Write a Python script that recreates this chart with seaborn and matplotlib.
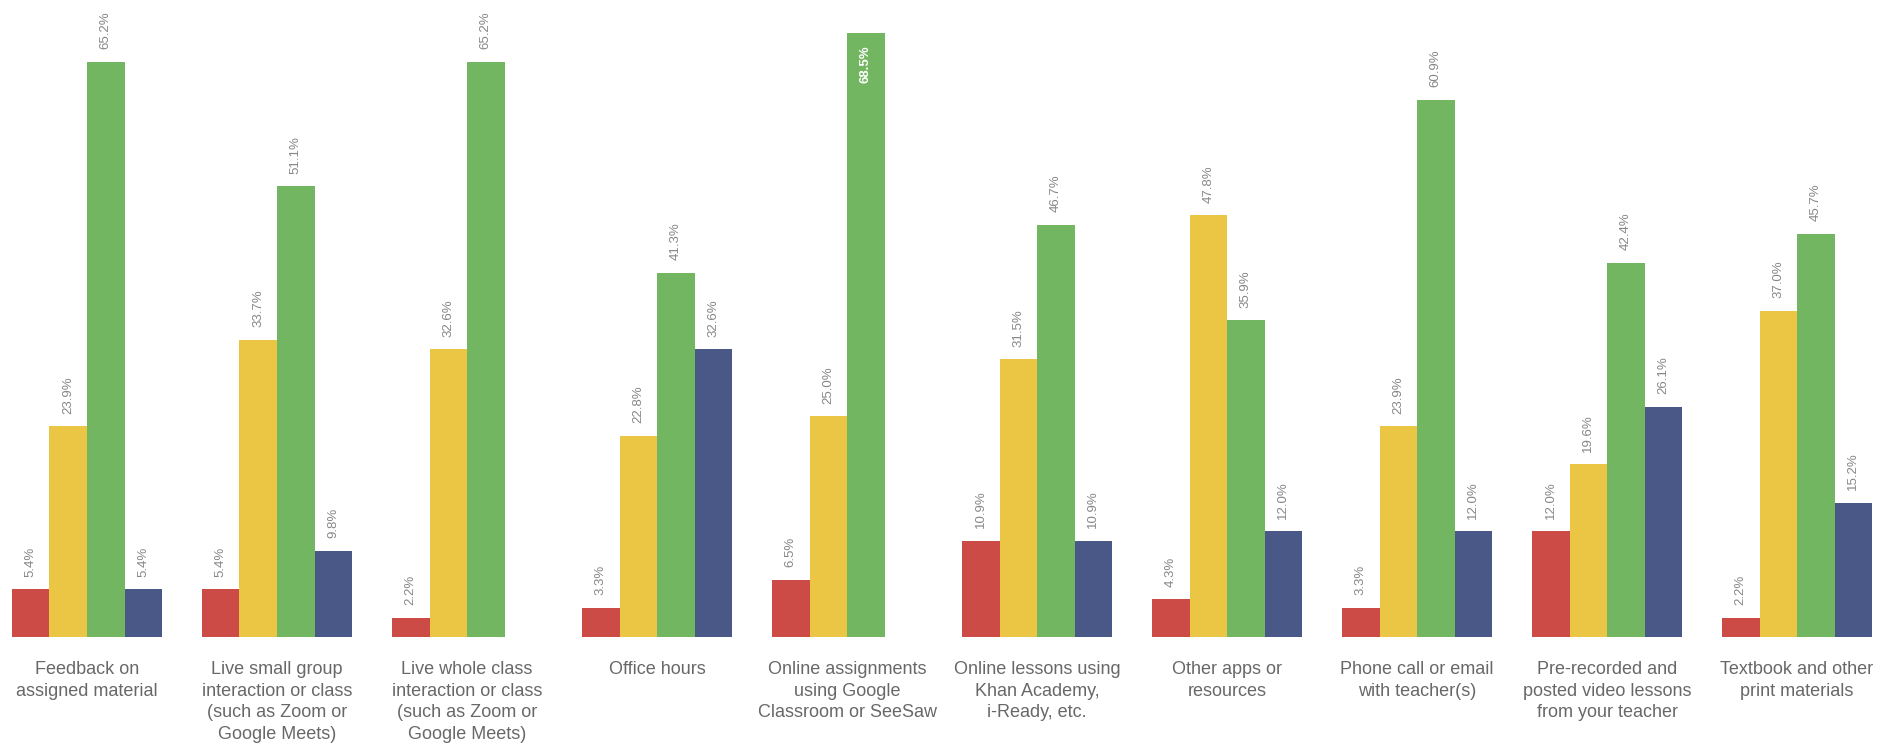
#!/usr/bin/env python3

import matplotlib

matplotlib.use("Agg")
import matplotlib.pyplot as plt
import pandas as pd
import seaborn as sns

# Categories along the x axis (multi-line labels as in the source chart)
categories = [
    "Feedback on\nassigned material",
    "Live small group\ninteraction or class\n(such as Zoom or\nGoogle Meets)",
    "Live whole class\ninteraction or class\n(such as Zoom or\nGoogle Meets)",
    "Office hours",
    "Online assignments\nusing Google\nClassroom or SeeSaw",
    "Online lessons using\nKhan Academy,\ni-Ready, etc.",
    "Other apps or\nresources",
    "Phone call or email\nwith teacher(s)",
    "Pre-recorded and\nposted video lessons\nfrom your teacher",
    "Textbook and other\nprint materials",
]

# Four response series (percent); None = no bar shown
series_names = ["Red", "Yellow", "Green", "Blue"]
red_vals = [5.4, 5.4, 2.2, 3.3, 6.5, 10.9, 4.3, 3.3, 12.0, 2.2]
yellow_vals = [23.9, 33.7, 32.6, 22.8, 25.0, 31.5, 47.8, 23.9, 19.6, 37.0]
green_vals = [65.2, 51.1, 65.2, 41.3, 68.5, 46.7, 35.9, 60.9, 42.4, 45.7]
blue_vals = [5.4, 9.8, None, 32.6, None, 10.9, 12.0, 12.0, 26.1, 15.2]

colors = ["#CC4B47", "#EBC645", "#72B662", "#4A5888"]

rows = []
for name, vals in zip(series_names, [red_vals, yellow_vals, green_vals, blue_vals]):
    for cat, v in zip(categories, vals):
        if v is not None:
            rows.append({"category": cat, "series": name, "value": v})
df = pd.DataFrame(rows)

sns.set_theme(style="white")
plt.rcParams["font.family"] = ["Liberation Sans", "DejaVu Sans"]

fig = plt.figure(figsize=(18.93, 7.48), dpi=100)
ax = fig.add_axes([0, 0.1484, 1, 0.8516])

sns.barplot(
    data=df,
    x="category",
    y="value",
    hue="series",
    order=categories,
    hue_order=series_names,
    palette=colors,
    saturation=1,
    width=0.79,
    linewidth=0,
    legend=False,
    ax=ax,
)

label_gray = "#878787"
for container in ax.containers:
    vals = container.datavalues
    labels = [f"{v:.1f}%" if v < 67 else "" for v in vals]
    ax.bar_label(
        container,
        labels=labels,
        rotation=90,
        padding=9,
        fontsize=9.5,
        color=label_gray,
    )
    # tallest bar gets its label inside, in white
    for bar, v in zip(container, vals):
        if v >= 67:
            ax.text(
                bar.get_x() + bar.get_width() / 2,
                v - 1.4,
                f"{v:.1f}%",
                rotation=90,
                ha="center",
                va="top",
                fontsize=9.5,
                fontweight="bold",
                color="white",
            )

ax.set_xlim(-0.458, 9.505)
ax.set_ylim(0, 72.2)
ax.set_xlabel("")
ax.set_ylabel("")
ax.set_yticks([])
ax.tick_params(axis="x", length=0, pad=17, labelsize=13, colors="#686868")
for t in ax.get_xticklabels():
    t.set_linespacing(1.38)
for s in ax.spines.values():
    s.set_visible(False)

plt.savefig("out.png", dpi=100)
